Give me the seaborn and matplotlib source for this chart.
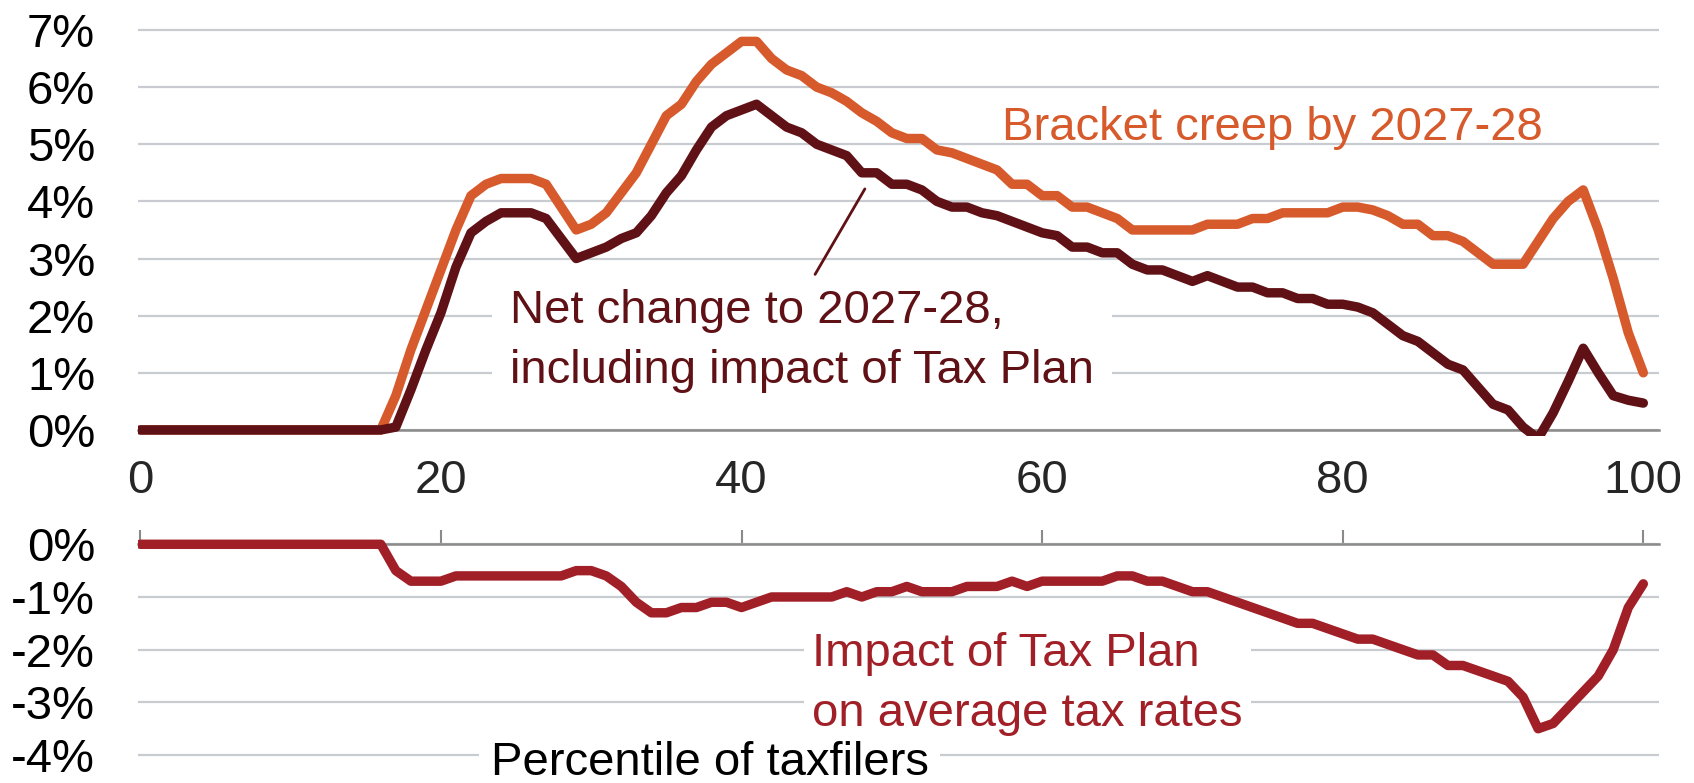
import numpy as np
import pandas as pd
import matplotlib
matplotlib.use('Agg')
import matplotlib.pyplot as plt
import seaborn as sns

# Values, one per percentile (0..100), in per cent
percentile = np.arange(0, 101)

bracket_creep = [
    0, 0, 0, 0, 0, 0, 0, 0, 0, 0, 0, 0, 0, 0, 0, 0, 0,
    0.6, 1.4, 2.1, 2.8, 3.5, 4.1, 4.3, 4.4, 4.4, 4.4,
    4.3, 3.9, 3.5, 3.6, 3.8, 4.15, 4.5, 5.0, 5.5, 5.7,
    6.1, 6.4, 6.6, 6.8, 6.8, 6.5, 6.3, 6.2, 6.0, 5.9,
    5.75, 5.55, 5.4, 5.2, 5.1, 5.1, 4.9, 4.85, 4.75, 4.65,
    4.55, 4.3, 4.3, 4.1, 4.1, 3.9, 3.9, 3.8, 3.7, 3.5,
    3.5, 3.5, 3.5, 3.5, 3.6, 3.6, 3.6, 3.7, 3.7, 3.8,
    3.8, 3.8, 3.8, 3.9, 3.9, 3.85, 3.75, 3.6, 3.6, 3.4,
    3.4, 3.3, 3.1, 2.9, 2.9, 2.9, 3.3, 3.7, 4.0, 4.2,
    3.5, 2.65, 1.7, 1.0,
]

net_change = [
    0, 0, 0, 0, 0, 0, 0, 0, 0, 0, 0, 0, 0, 0, 0, 0, 0,
    0.05, 0.7, 1.4, 2.05, 2.85, 3.45, 3.65, 3.8, 3.8, 3.8,
    3.7, 3.35, 3.0, 3.1, 3.2, 3.35, 3.45, 3.75, 4.15, 4.45,
    4.9, 5.3, 5.5, 5.6, 5.7, 5.5, 5.3, 5.2, 5.0, 4.9,
    4.8, 4.5, 4.5, 4.3, 4.3, 4.2, 4.0, 3.9, 3.9, 3.8,
    3.75, 3.65, 3.55, 3.45, 3.4, 3.2, 3.2, 3.1, 3.1, 2.9,
    2.8, 2.8, 2.7, 2.6, 2.7, 2.6, 2.5, 2.5, 2.4, 2.4,
    2.3, 2.3, 2.2, 2.2, 2.15, 2.05, 1.85, 1.65, 1.55, 1.35,
    1.15, 1.05, 0.75, 0.45, 0.35, 0.05, -0.15, 0.3, 0.85, 1.43,
    1.0, 0.6, 0.52, 0.47,
]

tax_plan_impact = [
    0, 0, 0, 0, 0, 0, 0, 0, 0, 0, 0, 0, 0, 0, 0, 0, 0,
    -0.5, -0.7, -0.7, -0.7, -0.6, -0.6, -0.6, -0.6, -0.6, -0.6,
    -0.6, -0.6, -0.5, -0.5, -0.6, -0.8, -1.1, -1.3, -1.3, -1.2,
    -1.2, -1.1, -1.1, -1.2, -1.1, -1.0, -1.0, -1.0, -1.0, -1.0,
    -0.9, -1.0, -0.9, -0.9, -0.8, -0.9, -0.9, -0.9, -0.8, -0.8,
    -0.8, -0.7, -0.8, -0.7, -0.7, -0.7, -0.7, -0.7, -0.6, -0.6,
    -0.7, -0.7, -0.8, -0.9, -0.9, -1.0, -1.1, -1.2, -1.3, -1.4,
    -1.5, -1.5, -1.6, -1.7, -1.8, -1.8, -1.9, -2.0, -2.1, -2.1,
    -2.3, -2.3, -2.4, -2.5, -2.6, -2.9, -3.5, -3.4, -3.1, -2.8,
    -2.5, -2.0, -1.2, -0.75,
]

x_ticks = [0, 20, 40, 60, 80, 100]
top_y_ticks = [0, 1, 2, 3, 4, 5, 6, 7]
bottom_y_ticks = [-4, -3, -2, -1, 0]

orange = '#d65a2b'
maroon = '#5f1116'
red = '#a11f27'
grid_grey = '#c8cbcf'
axis_grey = '#8a8a8a'

sns.set_style('white')
plt.rcParams['font.family'] = ['Liberation Sans', 'DejaVu Sans']

df = pd.DataFrame({
    'percentile': percentile,
    'bracket': bracket_creep,
    'net': net_change,
    'impact': tax_plan_impact,
})

fig = plt.figure(figsize=(16.94, 7.83), dpi=100)
ax_top = fig.add_axes([0.0815, 0.4436, 0.8979, 0.5218])
ax_bot = fig.add_axes([0.0815, 0.0323, 0.8979, 0.2793])

line_kw = dict(linewidth=6.8, solid_capstyle='round', solid_joinstyle='round', zorder=4)
sns.lineplot(data=df, x='percentile', y='bracket', color=orange, ax=ax_top, **line_kw)
sns.lineplot(data=df, x='percentile', y='net', color=maroon, ax=ax_top, **line_kw)
sns.lineplot(data=df, x='percentile', y='impact', color=red, ax=ax_bot, **line_kw)

for ax in (ax_top, ax_bot):
    ax.set_xlim(-0.15, 101.05)
    ax.set_xlabel('')
    ax.set_ylabel('')
    for s in ax.spines.values():
        s.set_visible(False)
    ax.grid(axis='y', color=grid_grey, linewidth=1.6)
    ax.grid(axis='x', visible=False)
    ax.set_axisbelow(True)
    ax.set_xticks(x_ticks)
    ax.tick_params(axis='y', length=0, pad=31, labelsize=34, labelcolor='black')

# top panel: bracket creep and net change
ax_top.set_ylim(-0.1, 7.05)
ax_top.set_yticks(top_y_ticks)
ax_top.set_yticklabels([f'{v}%' for v in top_y_ticks])
ax_top.spines['bottom'].set_visible(True)
ax_top.spines['bottom'].set_position(('data', 0))
ax_top.spines['bottom'].set_color(axis_grey)
ax_top.spines['bottom'].set_linewidth(1.8)
ax_top.tick_params(axis='x', direction='out', length=7.5, width=1.5, color=axis_grey,
                   pad=13.5, labelsize=34)

# bottom panel: impact of the Tax Plan
ax_bot.set_ylim(-4.05, 0.1)
ax_bot.set_yticks(bottom_y_ticks)
ax_bot.set_yticklabels([f'{v}%' for v in bottom_y_ticks])
ax_bot.spines['top'].set_visible(True)
ax_bot.spines['top'].set_position(('data', 0))
ax_bot.spines['top'].set_color(axis_grey)
ax_bot.spines['top'].set_linewidth(1.8)
ax_bot.xaxis.set_ticks_position('top')
ax_bot.tick_params(axis='x', direction='out', length=10, width=1.5, color=axis_grey,
                   labeltop=False, labelbottom=False)

# series labels (multi-line texts are anchored on the baseline of their last line)
ax_top.text(57.3, 5.07, 'Bracket creep by 2027-28', color=orange, fontsize=34,
            ha='left', va='baseline')
ax_top.text(24.6, 0.82, 'Net change to 2027-28,\nincluding impact of Tax Plan',
            color=maroon, fontsize=34, ha='left', va='baseline', linespacing=1.48,
            zorder=3, bbox=dict(facecolor='white', edgecolor='none', pad=13))
ax_top.annotate('', xy=(48.3, 4.26), xytext=(44.8, 2.68),
                arrowprops=dict(arrowstyle='-', color=maroon, lw=2))

ax_bot.text(44.7, -3.45, 'Impact of Tax Plan\non average tax rates',
            color=red, fontsize=34, ha='left', va='baseline', linespacing=1.48,
            zorder=3.5, bbox=dict(facecolor='white', edgecolor='none', pad=6))
ax_bot.text(23.3, -4.38, 'Percentile of taxfilers', color='black', fontsize=34,
            ha='left', va='baseline', zorder=3.6,
            bbox=dict(facecolor='white', edgecolor='none', pad=8))

fig.savefig('out.png', dpi=100)
